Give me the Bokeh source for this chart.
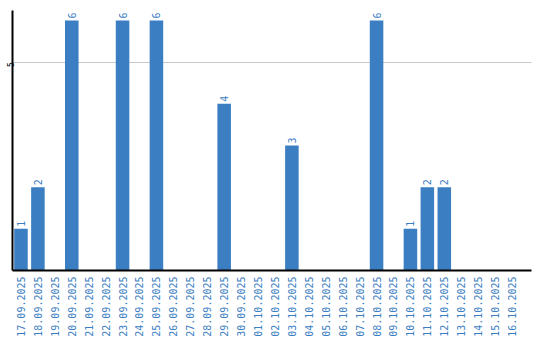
from math import pi
from bokeh.plotting import figure
from bokeh.models import ColumnDataSource, Range1d, FixedTicker, CustomJSTickFormatter
from bokeh.core.properties import value
from bokeh.embed import file_html
from bokeh.resources import INLINE

dates = ["17.09.2025", "18.09.2025", "19.09.2025", "20.09.2025", "21.09.2025",
         "22.09.2025", "23.09.2025", "24.09.2025", "25.09.2025", "26.09.2025",
         "27.09.2025", "28.09.2025", "29.09.2025", "30.09.2025", "01.10.2025",
         "02.10.2025", "03.10.2025", "04.10.2025", "05.10.2025", "06.10.2025",
         "07.10.2025", "08.10.2025", "09.10.2025", "10.10.2025", "11.10.2025",
         "12.10.2025", "13.10.2025", "14.10.2025", "15.10.2025", "16.10.2025"]
counts = [1, 2, 0, 6, 0, 0, 6, 0, 6, 0, 0, 0, 4, 0, 0, 0, 3, 0, 0, 0, 0, 6, 0, 1, 2, 2, 0, 0, 0, 0]
y_ticks = [5]

BLUE = "#3b7ec2"
FONT = "DejaVu Sans Mono"

xs = [i for i in range(len(dates))]
src = ColumnDataSource(dict(x=xs, top=counts))
nz = [i for i, c in enumerate(counts) if c > 0]
lsrc = ColumnDataSource(dict(x=[xs[i] for i in nz], y=[counts[i] for i in nz],
                             t=[str(counts[i]) for i in nz]))

p = figure(width=540, height=340, output_backend="svg", toolbar_location=None,
           x_range=Range1d(-0.5, 30.15), y_range=Range1d(0, 6.24),
           min_border_left=0, min_border_right=9, min_border_top=10, min_border_bottom=70)
p.outline_line_color = None
p.background_fill_color = "white"
p.border_fill_color = "white"

p.vbar(x="x", top="top", width=0.8, source=src, color=BLUE, line_color=None)
p.text(x="x", y="y", text="t", source=lsrc, angle=pi / 2, text_align="left",
       text_baseline="middle", y_offset=-2, text_color=BLUE,
       text_font=value(FONT), text_font_size="10px")

p.xgrid.visible = False
p.ygrid.ticker = FixedTicker(ticks=y_ticks)
p.ygrid.grid_line_color = "#c8c8c8"

xa = p.xaxis[0]
xa.ticker = FixedTicker(ticks=xs)
xa.formatter = CustomJSTickFormatter(args=dict(labels=dates),
                                     code="return labels[Math.round(tick)] || '';")
xa.major_label_orientation = pi / 2
xa.major_label_text_color = BLUE
xa.major_label_text_font = FONT
xa.major_label_text_font_size = "10px"
xa.major_label_standoff = 6
xa.major_tick_line_color = None
xa.major_tick_out = 0
xa.minor_tick_line_color = None
xa.minor_tick_out = 0
xa.axis_line_color = "black"
xa.axis_line_width = 2

ya = p.yaxis[0]
ya.ticker = FixedTicker(ticks=y_ticks)
ya.major_label_orientation = pi / 2
ya.major_label_text_color = "black"
ya.major_label_text_font = FONT
ya.major_label_text_font_size = "8px"
ya.major_label_standoff = 2
ya.major_tick_line_color = None
ya.major_tick_out = 0
ya.minor_tick_line_color = None
ya.minor_tick_out = 0
ya.axis_line_color = "black"
ya.axis_line_width = 2

open("out.html", "w").write(file_html(p, INLINE))
